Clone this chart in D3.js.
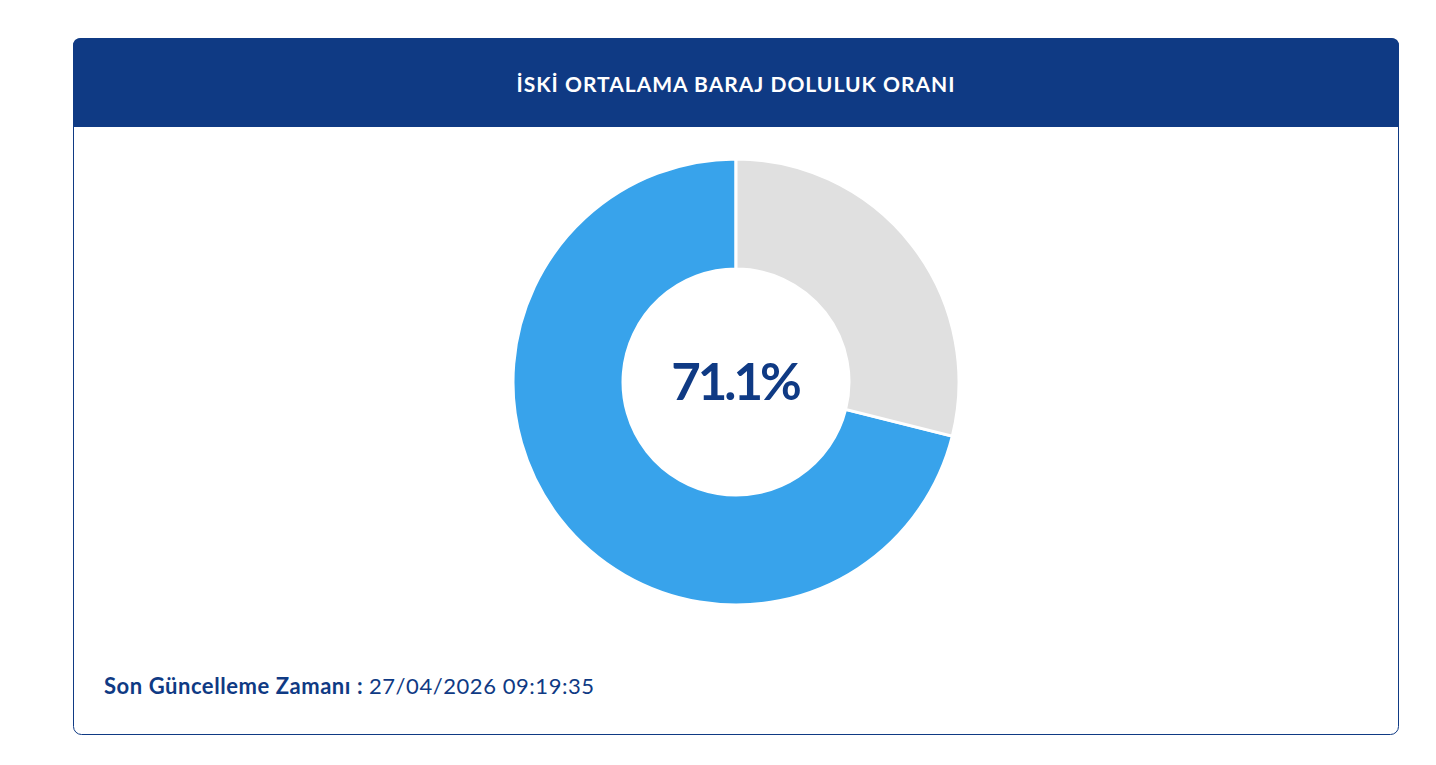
<!DOCTYPE html>
<html>
<head>
<meta charset="utf-8">
<script src="https://cdn.jsdelivr.net/npm/d3@7"></script>
<style>
  body { margin: 0; background: #fff; font-family: Lato, "Open Sans", sans-serif; }
</style>
</head>
<body>
<div id="chart"></div>
<script>
// Data
const labels = ["Dolu", "Boş"];
const values = [71.1, 28.9];
const colors = ["#38a3eb", "#e0e0e0"];
const title = "İSKİ ORTALAMA BARAJ DOLULUK ORANI";
const updateLabel = "Son Güncelleme Zamanı :";
const updateTime = "27/04/2026 09:19:35";

const W = 1436, H = 765;
const navy = "#0f3a84";

const card = { x: 73.5, y: 38.5, w: 1325, h: 696, r: 8, header: 89 };

const svg = d3.select("#chart")
    .append("svg")
    .attr("width", W)
    .attr("height", H);

// Card frame
svg.append("rect")
    .attr("x", card.x)
    .attr("y", card.y)
    .attr("width", card.w)
    .attr("height", card.h)
    .attr("rx", card.r)
    .attr("fill", "#fff")
    .attr("stroke", navy)
    .attr("stroke-width", 1);

// Header band with rounded top corners
const hx = card.x - 0.5, hy = card.y - 0.5, hw = card.w + 1, hh = card.header, r = card.r;
svg.append("path")
    .attr("d", `M${hx},${hy + hh} V${hy + r} Q${hx},${hy} ${hx + r},${hy} H${hx + hw - r} Q${hx + hw},${hy} ${hx + hw},${hy + r} V${hy + hh} Z`)
    .attr("fill", navy);

svg.append("text")
    .attr("x", hx + hw / 2)
    .attr("y", hy + hh / 2 + 1)
    .attr("text-anchor", "middle")
    .attr("dominant-baseline", "central")
    .attr("fill", "#fff")
    .attr("font-size", 21)
    .attr("font-weight", 700)
    .attr("letter-spacing", "1px")
    .text(title);

// Donut
const cx = 736, cy = 382;
const outerR = 223, innerR = 113;

const pie = d3.pie()
    .sort(null)
    .startAngle(0)
    .endAngle(-2 * Math.PI);

const arc = d3.arc()
    .innerRadius(innerR)
    .outerRadius(outerR);

const g = svg.append("g")
    .attr("transform", `translate(${cx},${cy})`);

g.selectAll("path.slice")
    .data(pie(values))
    .enter().append("path")
    .attr("class", "slice")
    .attr("d", arc)
    .attr("fill", (d, i) => colors[i])
    .attr("stroke", "#fff")
    .attr("stroke-width", 3);

g.append("text")
    .attr("x", -1)
    .attr("y", -2)
    .attr("text-anchor", "middle")
    .attr("dominant-baseline", "central")
    .attr("fill", navy)
    .attr("font-size", 51)
    .attr("font-weight", 700)
    .attr("letter-spacing", "-3px")
    .text(d3.format(".1f")(values[0]) + "%");

// Footer
const foot = svg.append("text")
    .attr("x", 104)
    .attr("y", 694)
    .attr("fill", navy)
    .attr("font-size", 22)
    .attr("letter-spacing", "0.55px");
foot.append("tspan").attr("font-weight", 700).text(updateLabel + " ");
foot.append("tspan").attr("font-weight", 400).text(updateTime);
</script>
</body>
</html>
